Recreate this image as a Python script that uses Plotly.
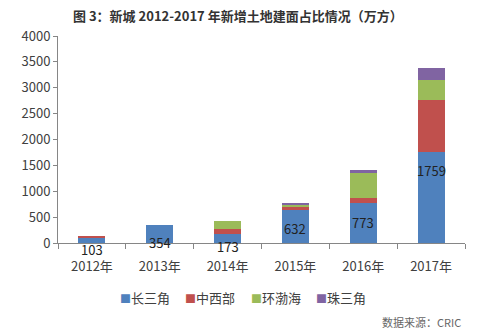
import plotly.graph_objects as go

# Newly added land floor area by region, 10k m²
years = ["2012年", "2013年", "2014年", "2015年", "2016年", "2017年"]
yangtze = [103, 354, 173, 632, 773, 1759]     # 长三角
midwest = [18, 0, 95, 75, 95, 1010]           # 中西部
bohai = [0, 0, 160, 30, 485, 375]             # 环渤海
pearl = [0, 0, 0, 20, 60, 245]                # 珠三角

series_names = ["长三角", "中西部", "环渤海", "珠三角"]
colors = ["#4F81BD", "#C0504D", "#9BBB59", "#8064A2"]

# vertical pixel nudges for the 长三角 value labels
label_shift = [-9, -9, -8, -2, 1, 27]

FONT = "Noto Sans CJK SC"
W, H = 479, 333
L, R, T, B = 58, 14, 36, 90
PW, PH = W - L - R, H - T - B


def px_x(x):
    return (x - L) / PW


def px_y(y):
    return (H - B - y) / PH


fig = go.Figure()
for name, vals, col in zip(series_names, [yangtze, midwest, bohai, pearl], colors):
    fig.add_trace(go.Bar(x=years, y=vals, name=name, marker_color=col,
                         marker_line_width=0, showlegend=False))

for yr, v, dy in zip(years, yangtze, label_shift):
    fig.add_annotation(x=yr, y=v / 2, text=str(v), showarrow=False,
                       yshift=dy, font=dict(family=FONT, size=13, color="#222"))

# compact legend row under the axis
legend_x = [118, 183, 249, 314]
for name, col, lx in zip(series_names, colors, legend_x):
    fig.add_annotation(
        text=f"<span style='color:{col};font-size:11px'>■</span>{name}",
        xref="paper", yref="paper", x=px_x(lx), y=px_y(297),
        showarrow=False, xanchor="left", yanchor="middle",
        font=dict(family=FONT, size=13, color="#404040"))

fig.add_annotation(text="<b>图 3：新城 2012-2017 年新增土地建面占比情况（万方）</b>",
                   xref="paper", yref="paper", x=px_x(238), y=px_y(15),
                   showarrow=False, xanchor="center", yanchor="middle",
                   font=dict(family=FONT, size=13, color="#333"))
fig.add_annotation(text="数据来源：CRIC", xref="paper", yref="paper",
                   x=px_x(463), y=px_y(322), showarrow=False,
                   xanchor="right", yanchor="middle",
                   font=dict(family=FONT, size=11, color="#666"))

fig.update_layout(
    width=W, height=H,
    margin=dict(l=L, r=R, t=T, b=B),
    barmode="stack", bargap=0.6,
    plot_bgcolor="white", paper_bgcolor="white",
    font=dict(family=FONT, size=13, color="#404040"),
    showlegend=False,
    xaxis=dict(showline=True, linecolor="#868686", linewidth=1,
               ticks="outside", tickson="boundaries", ticklen=5,
               tickcolor="#868686", tickfont=dict(size=13),
               ticklabelstandoff=11, automargin=False),
    yaxis=dict(range=[0, 4000], dtick=500, showgrid=False, showline=True,
               linecolor="#868686", linewidth=1, ticks="outside", ticklen=4,
               tickcolor="#868686", zeroline=False, tickfont=dict(size=13),
               automargin=False),
)

fig.write_html("out.html")
